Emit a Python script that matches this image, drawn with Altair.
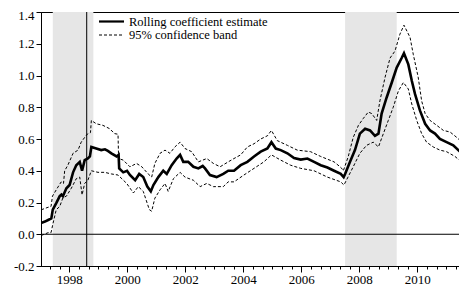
import altair as alt
import pandas as pd

# ---- data ----
est_year = [1997.02,1997.16,1997.27,1997.38,1997.43,1997.55,1997.67,1997.73,1997.78,1997.90,
            1998.01,1998.13,1998.24,1998.36,1998.44,1998.53,1998.64,1998.71,1998.76,1998.93,
            1999.10,1999.23,1999.33,1999.45,1999.63,1999.70,1999.72,1999.86,1999.99,
            2000.09,2000.27,2000.41,2000.55,2000.69,2000.81,2000.90,
            2001.07,2001.24,2001.36,2001.53,2001.70,2001.82,2001.93,
            2002.10,2002.28,2002.45,2002.60,2002.68,2002.85,
            2003.08,2003.31,2003.48,2003.68,2003.91,
            2004.14,2004.37,2004.60,2004.83,2004.97,
            2005.12,2005.29,2005.52,2005.75,2005.98,
            2006.21,2006.44,2006.67,2006.90,
            2007.13,2007.36,2007.46,2007.51,2007.68,2007.85,
            2008.02,2008.20,2008.37,2008.54,2008.66,2008.77,2008.94,
            2009.12,2009.29,2009.46,2009.54,2009.69,2009.81,2009.92,
            2010.09,2010.27,2010.44,2010.61,2010.78,
            2011.01,2011.24,2011.47,2011.68]
est_val = [0.07,0.08,0.09,0.10,0.155,0.196,0.24,0.25,0.24,0.29,
           0.31,0.39,0.435,0.456,0.40,0.467,0.477,0.49,0.55,0.54,
           0.53,0.535,0.525,0.51,0.49,0.50,0.415,0.39,0.40,
           0.373,0.34,0.38,0.36,0.30,0.27,0.31,
           0.36,0.40,0.38,0.435,0.477,0.50,0.456,
           0.456,0.425,0.415,0.43,0.415,0.373,
           0.36,0.38,0.40,0.40,0.435,
           0.456,0.49,0.52,0.54,0.58,
           0.54,0.53,0.51,0.48,0.47,
           0.477,0.456,0.435,0.42,
           0.40,0.38,0.36,0.38,0.456,0.53,
           0.634,0.665,0.654,0.62,0.634,0.76,0.86,
           0.956,1.05,1.11,1.14,1.07,0.967,0.884,
           0.78,0.696,0.654,0.634,0.60,
           0.58,0.56,0.52,0.477]

up_year = [1997.03,1997.27,1997.37,1997.42,1997.55,1997.72,1997.80,1997.84,1997.95,
           1998.13,1998.30,1998.41,1998.53,1998.64,1998.73,1998.76,1998.93,
           1999.16,1999.39,1999.56,1999.68,1999.70,1999.86,
           2000.09,2000.32,2000.50,2000.72,2000.84,2000.95,
           2001.13,2001.30,2001.47,2001.64,2001.82,2001.99,
           2002.22,2002.45,2002.74,2002.97,
           2003.20,2003.48,2003.68,2003.91,
           2004.14,2004.37,2004.60,2004.83,2004.97,
           2005.17,2005.52,2005.86,
           2006.32,2006.67,
           2007.13,2007.37,2007.45,2007.62,2007.79,2007.97,
           2008.14,2008.31,2008.43,2008.60,2008.71,2008.89,
           2009.06,2009.23,2009.40,2009.54,2009.75,2009.86,
           2010.03,2010.15,2010.27,2010.44,2010.67,2010.90,
           2011.13,2011.36,2011.59,2011.68]
up_val = [0.154,0.17,0.175,0.24,0.28,0.33,0.32,0.40,0.435,
          0.51,0.53,0.58,0.61,0.634,0.64,0.717,0.696,
          0.686,0.665,0.634,0.63,0.477,0.467,
          0.425,0.446,0.425,0.38,0.36,0.446,
          0.51,0.53,0.51,0.55,0.58,0.54,
          0.52,0.456,0.477,0.446,
          0.425,0.456,0.477,0.50,
          0.55,0.57,0.60,0.62,0.654,
          0.59,0.56,0.53,
          0.52,0.49,
          0.456,0.42,0.40,0.49,0.61,0.686,
          0.73,0.77,0.76,0.717,0.84,0.99,
          1.11,1.154,1.26,1.317,1.24,1.134,
          0.99,0.84,0.76,0.717,0.686,0.654,
          0.644,0.61,0.57,0.53]

lo_year = [1997.03,1997.27,1997.37,1997.44,1997.55,1997.67,1997.78,1997.90,
           1998.07,1998.24,1998.36,1998.44,1998.53,1998.64,1998.76,1998.99,
           1999.22,1999.45,1999.68,1999.98,
           2000.21,2000.38,2000.55,2000.76,2000.84,2000.95,
           2001.13,2001.30,2001.41,2001.59,2001.82,2001.99,
           2002.28,2002.51,2002.74,2002.97,
           2003.31,2003.48,2003.68,
           2004.02,2004.37,2004.71,2004.97,
           2005.29,2005.63,2005.98,
           2006.44,2006.90,
           2007.36,2007.47,2007.61,2007.79,
           2008.02,2008.25,2008.48,2008.66,2008.83,
           2009.00,2009.17,2009.35,2009.52,2009.69,2009.81,2009.98,
           2010.15,2010.32,2010.55,2010.78,
           2011.01,2011.30,2011.58,2011.68]
lo_val = [-0.008,0.01,0.01,0.07,0.155,0.175,0.23,0.24,
          0.29,0.35,0.36,0.248,0.32,0.34,0.40,0.39,
          0.39,0.38,0.373,0.32,
          0.26,0.30,0.27,0.155,0.145,0.227,
          0.28,0.32,0.27,0.35,0.39,0.36,
          0.34,0.30,0.32,0.30,
          0.30,0.33,0.33,
          0.373,0.415,0.456,0.50,
          0.467,0.435,0.415,
          0.40,0.36,
          0.33,0.31,0.36,0.425,
          0.51,0.56,0.58,0.55,0.634,
          0.717,0.80,0.904,0.956,0.915,0.82,0.717,
          0.634,0.58,0.55,0.53,
          0.52,0.49,0.446,0.40]

shade_start = [1997.43, 2007.51]
shade_end = [1998.83, 2009.29]
vline_year = [1998.60]
zero_line = [0.0]

major_ticks = [1998, 2000, 2002, 2004, 2006, 2008, 2010]
y_ticks = [-0.2, 0.0, 0.2, 0.4, 0.6, 0.8, 1.0, 1.2, 1.4]
legend_labels = ["Rolling coefficient estimate", "95% confidence band"]

# ---- frames ----
df_est = pd.DataFrame({"year": est_year, "value": est_val})
df_band = pd.concat([
    pd.DataFrame({"year": up_year, "value": up_val, "band": "upper"}),
    pd.DataFrame({"year": lo_year, "value": lo_val, "band": "lower"}),
])
df_shade = pd.DataFrame({"start": shade_start, "end": shade_end})
df_vline = pd.DataFrame({"year": vline_year})
df_zero = pd.DataFrame({"value": zero_line})
df_leg1 = pd.DataFrame({"label": [legend_labels[0]]})
df_leg2 = pd.DataFrame({"label": [legend_labels[1]]})

FONT = "'Liberation Serif', 'Times New Roman', serif"
W, H = 418, 254
PX_PER_YEAR = 29.0
x_dom = [1997.024, 1997.024 + W / PX_PER_YEAR]
minor_ticks = [round(1997 + k / 3, 4) for k in range(0, 45)
               if x_dom[0] <= 1997 + k / 3 <= x_dom[1]]

xs = alt.Scale(domain=x_dom, nice=False, zero=False)
ys = alt.Scale(domain=[-0.2, 1.4], nice=False, zero=False)

major_test = "abs(datum.value - 2 * round(datum.value / 2)) < 0.01"
x_axis = alt.Axis(values=minor_ticks, orient="bottom", grid=False,
                  tickSize={"condition": {"test": major_test, "value": 6}, "value": 3},
                  labelExpr=f"{major_test} ? format(datum.value, 'd') : ''",
                  labelOverlap=False, labelFlush=False,
                  labelFont=FONT, labelFontSize=13, labelColor="black", labelPadding=1,
                  domainColor="black", tickColor="black", title=None)
y_axis = alt.Axis(values=y_ticks, format=".1f", tickSize=5, grid=False,
                  labelFont=FONT, labelFontSize=13, labelColor="black", labelPadding=2,
                  labelOffset={"condition": {"test": "datum.value > 1.35", "value": 3}, "value": 0},
                  domainColor="black", tickColor="black", title=None,
                  labelExpr="replace(datum.label, '\u2212', '-')")

shade = alt.Chart(df_shade).mark_rect(color="#e6e6e6", clip=True).encode(
    x=alt.X("start:Q", scale=xs, axis=x_axis),
    x2="end:Q",
)
vline = alt.Chart(df_vline).mark_rule(color="black", strokeWidth=1).encode(
    x=alt.X("year:Q", scale=xs, axis=x_axis)
)
zline = alt.Chart(df_zero).mark_rule(color="black", strokeWidth=1).encode(
    y=alt.Y("value:Q", scale=ys, axis=y_axis)
)
bands = alt.Chart(df_band).mark_line(color="black", strokeWidth=1, strokeDash=[3, 2],
                                     clip=True).encode(
    x=alt.X("year:Q", scale=xs, axis=x_axis),
    y=alt.Y("value:Q", scale=ys, axis=y_axis),
    detail="band:N",
)
est = alt.Chart(df_est).mark_line(color="black", strokeWidth=2.6, clip=True).encode(
    x=alt.X("year:Q", scale=xs, axis=x_axis),
    y=alt.Y("value:Q", scale=ys, axis=y_axis),
)

leg_r1 = alt.Chart(df_leg1).mark_rule(color="black", strokeWidth=2.2).encode(
    x=alt.value(58), x2=alt.value(83), y=alt.value(9.5))
leg_t1 = alt.Chart(df_leg1).mark_text(align="left", baseline="middle", font=FONT, fontSize=12.5,
                                      color="black").encode(
    x=alt.value(88), y=alt.value(9.5), text="label:N")
leg_r2 = alt.Chart(df_leg2).mark_rule(color="black", strokeWidth=1, strokeDash=[3, 2]).encode(
    x=alt.value(58), x2=alt.value(83), y=alt.value(23))
leg_t2 = alt.Chart(df_leg2).mark_text(align="left", baseline="middle", font=FONT, fontSize=12.5,
                                      color="black").encode(
    x=alt.value(88), y=alt.value(23), text="label:N")

chart = alt.layer(
    shade, vline, zline, bands, est, leg_r1, leg_t1, leg_r2, leg_t2
).properties(
    width=W, height=H,
    autosize=alt.AutoSizeParams(type="none"),
    padding={"left": 33, "top": 4, "right": 0, "bottom": 20},
    background="white",
).configure_view(stroke="black", strokeWidth=1)

chart.save("out.html", embed_options={"renderer": "svg", "actions": False})
